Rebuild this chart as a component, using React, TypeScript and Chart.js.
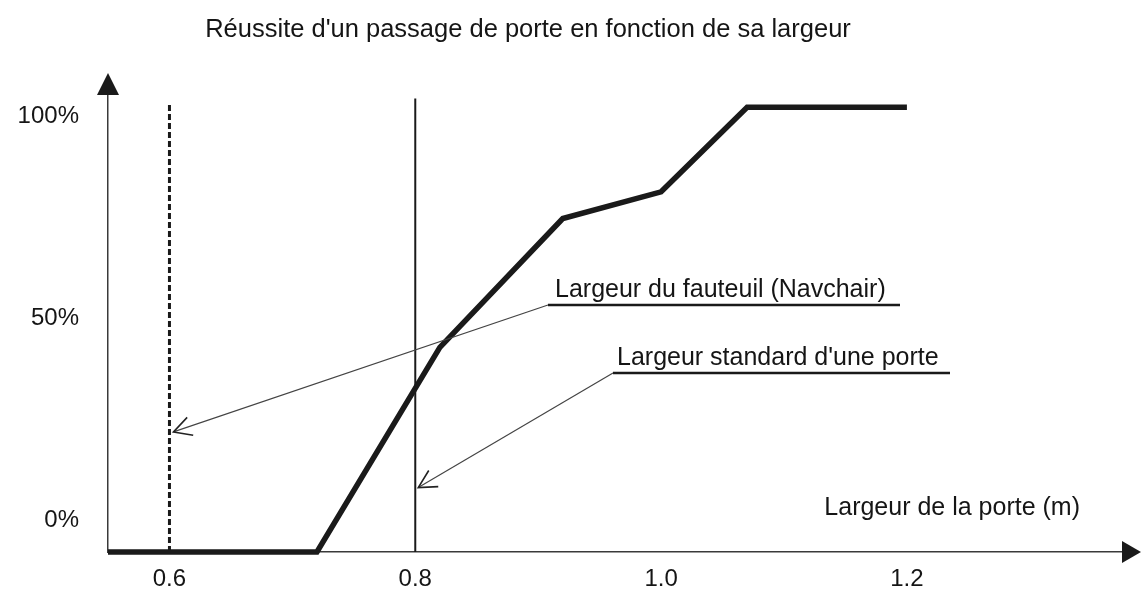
import React, { useEffect, useRef } from 'react';
import { Chart, registerables } from 'chart.js';

Chart.register(...registerables);

const FONT = '"Liberation Sans", Arial, Helvetica, sans-serif';

// ---- data ----
const chartTitle = "Réussite d'un passage de porte en fonction de sa largeur";
const xAxisTitle = 'Largeur de la porte (m)';

const doorWidths = [0.55, 0.72, 0.82, 0.92, 1.0, 1.07, 1.2]; // m
const successRates = [0, 0, 46, 75, 81, 100, 100]; // %

const xTickValues = [0.6, 0.8, 1.0, 1.2];
const xTickLabels = ['0.6', '0.8', '1.0', '1.2'];
const yTickValues = [0, 50, 100];
const yTickLabels = ['0%', '50%', '100%'];

const wheelchairWidth = 0.6; // dashed line
const wheelchairLine = [0, 101];
const standardDoorWidth = 0.8; // solid line
const standardDoorLine = [0, 102];

const annotationTexts = ['Largeur du fauteuil (Navchair)', "Largeur standard d'une porte"];
const annotationTargetRates = [27, 14.5]; // % level where each arrow hits its line

const decorPlugin = {
  id: 'decor',
  afterDraw(chart: any) {
    const { ctx, chartArea: a, scales } = chart;
    const xs = scales.x;
    const ys = scales.y;
    ctx.save();
    // axis arrowheads
    ctx.fillStyle = '#1a1a1a';
    ctx.beginPath();
    ctx.moveTo(a.left, 73);
    ctx.lineTo(a.left - 11, 95);
    ctx.lineTo(a.left + 11, 95);
    ctx.closePath();
    ctx.fill();
    ctx.beginPath();
    ctx.moveTo(1141, a.bottom);
    ctx.lineTo(a.right, a.bottom - 11);
    ctx.lineTo(a.right, a.bottom + 11);
    ctx.closePath();
    ctx.fill();

    // title
    ctx.fillStyle = '#151515';
    ctx.font = `25.5px ${FONT}`;
    ctx.textBaseline = 'middle';
    ctx.textAlign = 'center';
    ctx.fillText(chartTitle, 528, 30);

    // x axis title
    ctx.font = `25px ${FONT}`;
    ctx.textAlign = 'right';
    ctx.fillText(xAxisTitle, 1080, 508);

    // annotations
    const anns = [
      {
        text: annotationTexts[0], tx: 555, ty: 290, ux0: 548, ux1: 900, uy: 305,
        px: xs.getPixelForValue(wheelchairWidth) + 4, py: ys.getPixelForValue(annotationTargetRates[0]),
      },
      {
        text: annotationTexts[1], tx: 617, ty: 358, ux0: 613, ux1: 950, uy: 373,
        px: xs.getPixelForValue(standardDoorWidth) + 3, py: ys.getPixelForValue(annotationTargetRates[1]),
      },
    ];
    ctx.textAlign = 'left';
    for (const an of anns) {
      ctx.fillStyle = '#151515';
      ctx.fillText(an.text, an.tx, an.ty);
      ctx.strokeStyle = '#1a1a1a';
      ctx.lineWidth = 2.5;
      ctx.beginPath();
      ctx.moveTo(an.ux0, an.uy);
      ctx.lineTo(an.ux1, an.uy);
      ctx.stroke();
      // leader line
      ctx.strokeStyle = '#444';
      ctx.lineWidth = 1.2;
      ctx.beginPath();
      ctx.moveTo(an.ux0, an.uy);
      ctx.lineTo(an.px, an.py);
      ctx.stroke();
      // open arrowhead
      const th = Math.atan2(an.uy - an.py, an.ux0 - an.px);
      const phi = (28 * Math.PI) / 180;
      const L = 20;
      ctx.strokeStyle = '#222';
      ctx.lineWidth = 1.6;
      ctx.beginPath();
      ctx.moveTo(an.px + L * Math.cos(th - phi), an.py + L * Math.sin(th - phi));
      ctx.lineTo(an.px, an.py);
      ctx.lineTo(an.px + L * Math.cos(th + phi), an.py + L * Math.sin(th + phi));
      ctx.stroke();
    }
    ctx.restore();
  },
};

export default function App() {
  const ref = useRef<HTMLCanvasElement>(null);

  useEffect(() => {
    if (!ref.current) return;
    Chart.defaults.font.family = FONT;
    const chart = new Chart(ref.current, {
      type: 'line',
      data: {
        datasets: [
          {
            label: 'Réussite',
            data: doorWidths.map((x, i) => ({ x, y: successRates[i] })),
            borderColor: '#1a1a1a',
            borderWidth: 5.5,
            pointRadius: 0,
            tension: 0,
            fill: false,
            clip: false as any,
            xAxisID: 'x',
            yAxisID: 'y',
          },
          {
            label: 'Largeur du fauteuil',
            data: wheelchairLine.map((y) => ({ x: wheelchairWidth, y })),
            borderColor: '#1a1a1a',
            borderWidth: 3,
            borderDash: [6, 3],
            pointRadius: 0,
            fill: false,
            clip: false as any,
            xAxisID: 'x',
            yAxisID: 'y',
          },
          {
            label: 'Largeur standard',
            data: standardDoorLine.map((y) => ({ x: standardDoorWidth, y })),
            borderColor: '#1a1a1a',
            borderWidth: 2,
            pointRadius: 0,
            fill: false,
            clip: false as any,
            xAxisID: 'x',
            yAxisID: 'y',
          },
        ],
      },
      options: {
        responsive: false,
        devicePixelRatio: 1,
        animation: false,
        layout: { padding: { top: 94, right: 20, left: 0, bottom: 0 } },
        plugins: {
          legend: { display: false },
          tooltip: { enabled: false },
          title: { display: false },
        },
        scales: {
          x: {
            type: 'linear',
            position: 'bottom',
            min: 0.55,
            max: 1.375,
            afterBuildTicks: (s: any) => {
              s.ticks = xTickValues.map((v) => ({ value: v }));
            },
            afterFit: (s: any) => {
              s.height = 38;
            },
            ticks: {
              callback: (_v: any, i: number) => xTickLabels[i],
              font: { size: 24 },
              color: '#151515',
              padding: 13,
              maxRotation: 0,
              autoSkip: false,
            },
            grid: { display: false, drawTicks: false },
            border: { display: true, color: '#3a3a3a', width: 1.5 },
          },
          y: {
            type: 'linear',
            position: 'left',
            min: 0,
            max: 103,
            weight: 0,
            afterFit: (s: any) => {
              s.width = 18;
            },
            ticks: { display: false },
            grid: { display: false, drawTicks: false },
            border: { display: true, color: '#3a3a3a', width: 1.5 },
          },
          yLabels: {
            type: 'linear',
            position: 'left',
            min: -7.9,
            max: 105.45,
            weight: 1,
            afterBuildTicks: (s: any) => {
              s.ticks = yTickValues.map((v) => ({ value: v }));
            },
            afterFit: (s: any) => {
              s.width = 90;
            },
            ticks: {
              callback: (_v: any, i: number) => yTickLabels[i],
              font: { size: 24 },
              color: '#151515',
              padding: 11,
              autoSkip: false,
            },
            grid: { display: false, drawTicks: false },
            border: { display: false },
          },
        },
      } as any,
      plugins: [decorPlugin],
    });
    return () => chart.destroy();
  }, []);

  return (
    <div style={{ position: 'absolute', left: 0, top: 0, width: 1142, height: 590, background: '#fff' }}>
      <canvas ref={ref} width={1142} height={590} style={{ display: 'block' }} />
    </div>
  );
}
